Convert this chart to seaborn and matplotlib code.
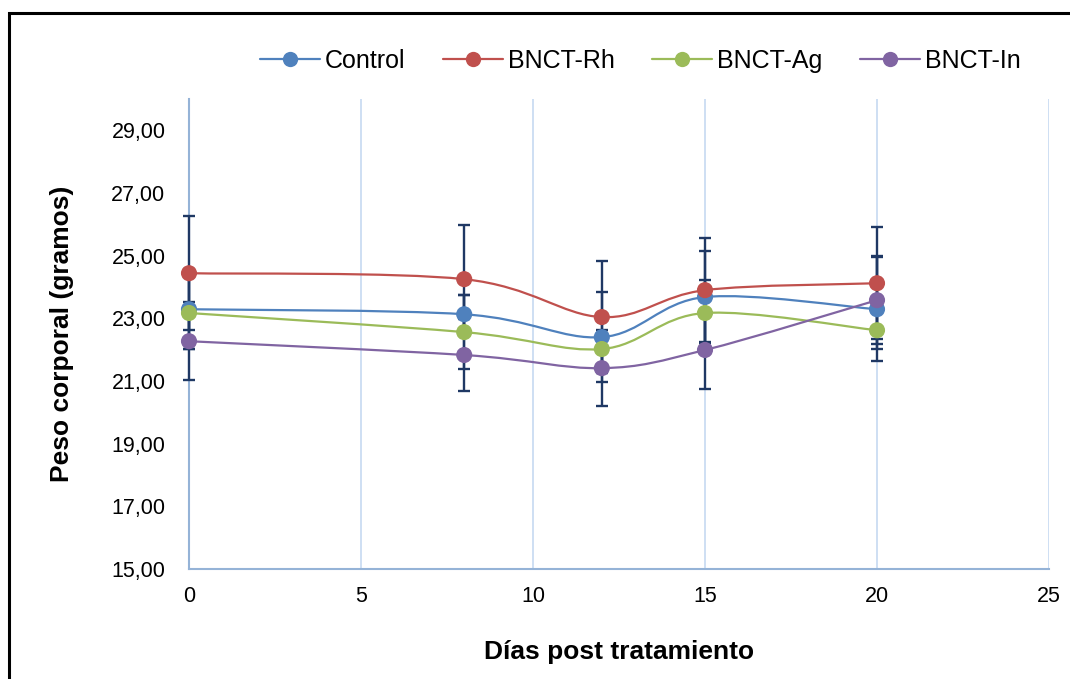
import numpy as np
import pandas as pd
import matplotlib
matplotlib.use("Agg")
import matplotlib.pyplot as plt
import seaborn as sns
from matplotlib.path import Path
from matplotlib.patches import PathPatch, Rectangle
from matplotlib.lines import Line2D
from matplotlib.ticker import FuncFormatter

dias = [0, 8, 12, 15, 20]
series = ["Control", "BNCT-Rh", "BNCT-Ag", "BNCT-In"]

control = [23.29, 23.13, 22.40, 23.68, 23.29]
bnct_rh = [24.44, 24.25, 23.04, 23.90, 24.12]
bnct_ag = [23.17, 22.56, 22.02, 23.17, 22.62]
bnct_in = [22.27, 21.83, 21.41, 21.99, 23.58]

err_control = [1.27, 0.60, 1.44, 1.46, 1.66]
err_rh = [1.82, 1.72, 1.78, 1.66, 1.79]
err_ag = [1.15, 1.17, 0.50, 1.05, 0.60]
err_in = [1.24, 1.15, 1.21, 1.25, 1.40]

colores = ["#4F81BD", "#C0504D", "#9BBB59", "#8064A2"]
color_err = "#1F3864"

df = pd.DataFrame({
    "dia": dias * 4,
    "peso": control + bnct_rh + bnct_ag + bnct_in,
    "err": err_control + err_rh + err_ag + err_in,
    "grupo": [s for s in series for _ in dias],
})

sns.set_style("white")
plt.rcParams["font.family"] = ["Liberation Sans", "DejaVu Sans"]
plt.rcParams["text.color"] = "black"
plt.rcParams["axes.labelcolor"] = "black"
plt.rcParams["xtick.color"] = "black"
plt.rcParams["ytick.color"] = "black"

fig = plt.figure(figsize=(10.7, 6.79), dpi=100)
ax = fig.add_axes([189 / 1070, 1 - 569 / 679, (1049 - 189) / 1070, (569 - 99) / 679])


def curva_suave(x, y):
    # bezier tipo Catmull-Rom, como las lineas suavizadas de Excel
    x = np.asarray(x, float)
    y = np.asarray(y, float)
    px = np.concatenate([[x[0]], x, [x[-1]]])
    py = np.concatenate([[y[0]], y, [y[-1]]])
    verts = [(x[0], y[0])]
    codes = [Path.MOVETO]
    for i in range(1, len(x)):
        c1 = (px[i] + (px[i + 1] - px[i - 1]) / 6, py[i] + (py[i + 1] - py[i - 1]) / 6)
        c2 = (px[i + 1] - (px[i + 2] - px[i]) / 6, py[i + 1] - (py[i + 2] - py[i]) / 6)
        verts += [c1, c2, (px[i + 1], py[i + 1])]
        codes += [Path.CURVE4] * 3
    return Path(verts, codes)


for k, s in enumerate(series):
    d = df[df["grupo"] == s]
    ax.add_patch(PathPatch(curva_suave(d["dia"], d["peso"]), fill=False,
                           edgecolor=colores[k], lw=1.6, zorder=3))
    eb = ax.errorbar(d["dia"], d["peso"], yerr=d["err"], fmt="none", ecolor=color_err,
                     elinewidth=1.7, capsize=4.3, capthick=1.7, zorder=4)
    for art in eb.lines[1] + eb.lines[2]:
        art.set_clip_on(False)

sns.scatterplot(data=df, x="dia", y="peso", hue="grupo", palette=colores,
                s=135, edgecolor="none", legend=False, zorder=5, clip_on=False, ax=ax)

ax.set_xlim(0, 25)
ax.set_ylim(15, 30)
ax.set_xticks([0, 5, 10, 15, 20, 25])
ax.set_yticks([15, 17, 19, 21, 23, 25, 27, 29])
ax.yaxis.set_major_formatter(FuncFormatter(lambda v, p: f"{v:.2f}".replace(".", ",")))
ax.tick_params(axis="both", labelsize=15.5, length=0)
ax.tick_params(axis="x", pad=12)
ax.tick_params(axis="y", pad=17)

ax.grid(axis="x", color="#C6D9F1", lw=1.2)
ax.grid(axis="y", visible=False)
ax.spines["top"].set_visible(False)
ax.spines["right"].set_visible(False)
for side in ["left", "bottom"]:
    ax.spines[side].set_color("#95B3D7")
    ax.spines[side].set_linewidth(1.5)

ax.set_xlabel("Días post tratamiento", fontsize=19, fontweight="bold", labelpad=24)
ax.set_ylabel("Peso corporal (gramos)", fontsize=19, fontweight="bold", labelpad=27)

handles = [Line2D([], [], color=c, lw=1.6, marker="o", markersize=11, markeredgecolor="none")
           for c in colores]
fig.legend(handles, series, loc="center", bbox_to_anchor=(640 / 1070, 1 - 61 / 679), ncol=4,
           frameon=False, fontsize=18, handlelength=2.4, columnspacing=1.5, handletextpad=0.2)

fig.patches.append(Rectangle((9 / 1070, -0.1), 1.2, 1.1 - 13 / 679, transform=fig.transFigure,
                             fill=False, edgecolor="black", lw=2.2))

fig.savefig("out.png", dpi=100)
